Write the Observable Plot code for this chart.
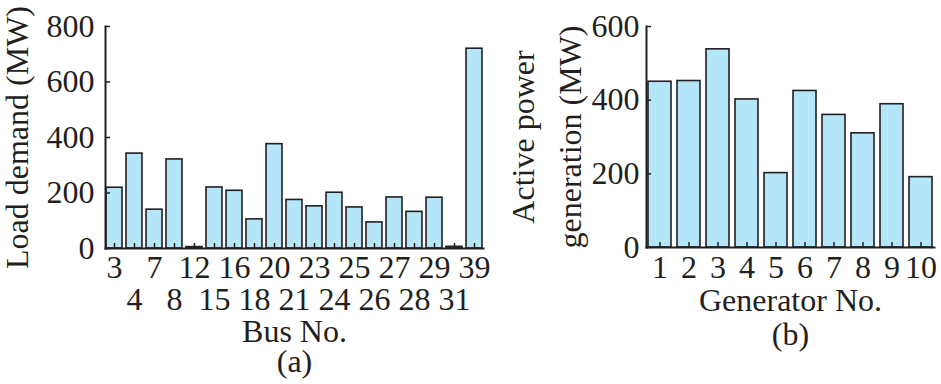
<!DOCTYPE html>
<html>
<head>
<meta charset="utf-8">
<script src="https://cdn.jsdelivr.net/npm/d3@7"></script>
<script src="https://cdn.jsdelivr.net/npm/@observablehq/plot@0.6"></script>
<style>
  html, body { margin: 0; padding: 0; background: #fff; }
  #wrap { position: relative; width: 941px; height: 384px; overflow: hidden; }
  #a { position: absolute; left: 0; top: 0; }
  #b { position: absolute; left: 490px; top: 0; }
</style>
</head>
<body>
<div id="wrap"><div id="a"></div><div id="b"></div></div>
<script>
// Panel (a): load demand by bus
const buses = [3, 4, 7, 8, 12, 15, 16, 18, 20, 21, 23, 24, 25, 26, 27, 28, 29, 31, 39];
const loadMW = [219, 342, 140, 321, 5, 220, 208, 105, 376, 175, 152, 201, 148, 94, 184, 132, 183, 6, 720];
const loadTicks = [0, 200, 400, 600, 800];

// Panel (b): active power generation by generator
const generators = [1, 2, 3, 4, 5, 6, 7, 8, 9, 10];
const genMW = [450, 452, 538, 402, 202, 425, 360, 310, 389, 191];
const genTicks = [0, 200, 400, 600];

const ink = "#231f20";
const barFill = "#b4e5f8";
const font = "'Liberation Serif', 'Times New Roman', serif";

const loadData = buses.map((b, i) => ({bus: b, load: loadMW[i]}));
const genData = generators.map((g, i) => ({gen: g, p: genMW[i]}));

const style = {fontFamily: font, fontSize: "32px", color: ink, background: "transparent", overflow: "visible"};

const plotA = Plot.plot({
  width: 490, height: 384,
  marginLeft: 105, marginRight: 7, marginTop: 26, marginBottom: 136,
  style,
  x: {type: "band", domain: buses, paddingInner: 0.2, paddingOuter: 0, label: null},
  y: {domain: [0, 800], label: null},
  marks: [
    Plot.barY(loadData, {x: "bus", y: "load", fill: barFill, stroke: ink, strokeWidth: 1.6, inset: 0}),
    Plot.frame({anchor: "left", stroke: ink, strokeWidth: 2}),
    Plot.frame({anchor: "bottom", stroke: ink, strokeWidth: 2}),
    Plot.axisY({ticks: loadTicks, tickSize: -5, tickPadding: 16, strokeWidth: 1.5, stroke: ink, fill: ink, label: null}),
    Plot.axisX({tickSize: -5, tickPadding: 12, strokeWidth: 1.5, stroke: ink, fill: ink, lineHeight: 1, label: null,
      tickFormat: d => (buses.indexOf(d) % 2 ? "\n" + d : String(d))}),
    Plot.text(["Bus No.\n(a)"], {frameAnchor: "bottom", dy: 72, lineAnchor: "top", lineHeight: 0.94, fill: ink}),
    Plot.text(["Load demand (MW)"], {frameAnchor: "left", dx: -100, rotate: -90, textAnchor: "middle", lineAnchor: "top", fill: ink})
  ]
});
document.getElementById("a").appendChild(plotA);

const plotB = Plot.plot({
  width: 451, height: 384,
  marginLeft: 156, marginRight: 7, marginTop: 26, marginBottom: 137,
  style,
  x: {type: "band", domain: generators, paddingInner: 0.2, paddingOuter: 0, label: null},
  y: {domain: [0, 600], label: null},
  marks: [
    Plot.barY(genData, {x: "gen", y: "p", fill: barFill, stroke: ink, strokeWidth: 1.6, inset: 0}),
    Plot.frame({anchor: "left", stroke: ink, strokeWidth: 2}),
    Plot.frame({anchor: "bottom", stroke: ink, strokeWidth: 2}),
    Plot.axisY({ticks: genTicks, tickSize: -5, tickPadding: 12, strokeWidth: 1.5, stroke: ink, fill: ink, label: null}),
    Plot.axisX({tickSize: -5, tickPadding: 13, strokeWidth: 1.5, stroke: ink, fill: ink, label: null}),
    Plot.text(["Generator No.\n(b)"], {frameAnchor: "bottom", dy: 39, lineAnchor: "top", lineHeight: 1.06, fill: ink}),
    Plot.text(["Active power\ngeneration (MW)"], {frameAnchor: "left", dx: -146, rotate: -90, textAnchor: "middle", lineAnchor: "top", lineHeight: 1.47, fill: ink})
  ]
});
document.getElementById("b").appendChild(plotB);
</script>
</body>
</html>
